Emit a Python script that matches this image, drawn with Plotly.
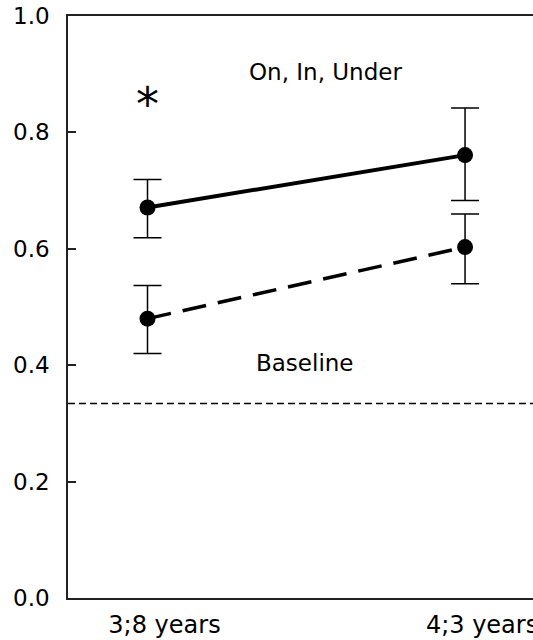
import plotly.graph_objects as go

ages = ["3;8 years", "4;3 years"]
onin_mean = [0.671, 0.761]
onin_err_plus = [0.048, 0.081]
onin_err_minus = [0.052, 0.078]
base_mean = [0.480, 0.603]
base_err_plus = [0.057, 0.057]
base_err_minus = [0.060, 0.063]
chance = 0.334
y_ticks = [0.0, 0.2, 0.4, 0.6, 0.8, 1.0]
y_tick_text = ["0.0", "0.2", "0.4", "0.6", "0.8", "1.0"]

FONT = "DejaVu Sans, Verdana, sans-serif"

fig = go.Figure()

fig.add_trace(go.Scatter(
    x=ages, y=onin_mean, mode="lines+markers",
    line=dict(color="black", width=4),
    marker=dict(color="black", size=16),
    error_y=dict(type="data", array=onin_err_plus, arrayminus=onin_err_minus,
                 color="black", thickness=1.5, width=14),
    showlegend=False,
))
fig.add_trace(go.Scatter(
    x=ages, y=base_mean, mode="lines+markers",
    line=dict(color="black", width=3.5, dash="24px,12px"),
    marker=dict(color="black", size=16),
    error_y=dict(type="data", array=base_err_plus, arrayminus=base_err_minus,
                 color="black", thickness=1.5, width=14),
    showlegend=False,
))

fig.add_shape(type="line", xref="paper", yref="y", x0=0, x1=1, y0=chance, y1=chance,
              line=dict(color="black", width=1.5, dash="7px,4px"))

fig.add_annotation(text="On, In, Under", xref="paper", yref="y", x=0.553, y=0.903,
                   showarrow=False, font=dict(family=FONT, size=23, color="black"))
fig.add_annotation(text="Baseline", xref="paper", yref="y", x=0.509, y=0.404,
                   showarrow=False, font=dict(family=FONT, size=23, color="black"))
fig.add_annotation(text="*", xref="x", yref="y", x=ages[0], y=0.849,
                   showarrow=False, font=dict(family=FONT, size=46, color="black"))

fig.update_layout(
    width=533, height=640,
    margin=dict(l=68, r=0, t=16, b=42, autoexpand=False),
    paper_bgcolor="white", plot_bgcolor="white",
    font=dict(family=FONT, size=23, color="black"),
    xaxis=dict(
        type="category", range=[-0.2504, 1.214], automargin=False,
        showline=True, linecolor="#222", linewidth=1.5, mirror=True,
        ticks="", showgrid=False, zeroline=False,
        tickfont=dict(family=FONT, size=24, color="black"),
        ticklabelstandoff=4, ticklabelshift=17, ticklabeloverflow="allow",
    ),
    yaxis=dict(
        range=[0, 1.0], tickvals=y_ticks, ticktext=y_tick_text, automargin=False,
        showline=True, linecolor="#222", linewidth=1.5,
        ticks="inside", ticklen=8, tickcolor="#222", tickwidth=1.5,
        showgrid=False, zeroline=False,
        tickfont=dict(family=FONT, size=23, color="black"),
        ticklabelstandoff=12, ticklabeloverflow="allow",
    ),
)

fig.write_html(
    "out.html",
    config={"displayModeBar": False},
    post_script="document.body.style.margin='0';document.body.style.overflow='hidden';",
)
